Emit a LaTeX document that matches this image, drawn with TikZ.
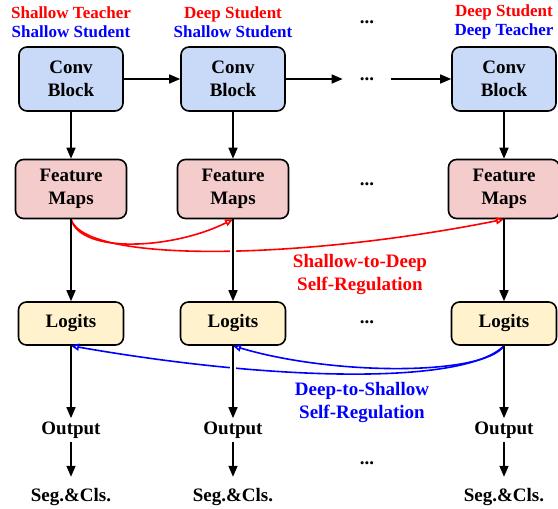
\documentclass[tikz,border=0pt]{standalone}
\usepackage{fontspec}
\setmainfont{Liberation Serif}
\usetikzlibrary{arrows.meta}
\definecolor{convblue}{HTML}{C9DAF8}
\definecolor{featpink}{HTML}{F4CCCC}
\definecolor{logityel}{HTML}{FFF2CC}
\begin{document}
\begin{tikzpicture}[x=1pt, y=-1pt, every node/.style={font=\bfseries\fontsize{19}{23}\selectfont, align=center},
                box/.style={draw, line width=1.6pt, rounded corners=8pt, inner sep=0pt},
                small/.style={font=\bfseries\fontsize{17}{19}\selectfont},
                flow/.style={line width=1.6pt, -{Triangle[length=11pt,width=9pt]}},
                gap/.style={preaction={draw=white, line width=6pt, arrows=-, shorten <=14pt, shorten >=14pt}},
                reg/.style={line width=1.6pt, -{Triangle[open,length=8pt,width=7pt]}}]
                \useasboundingbox (0,0) rectangle (558,509);
                \foreach \i/\x/\up/\lo in {1/71/Shallow Teacher/Shallow Student, 2/233/Deep Student/Shallow Student, 3/504/Deep Student/Deep Teacher} {
                    \node[small] (H\i) at (\x,22) {\textcolor{red}{\up}\\\textcolor{blue}{\lo}};
                    \node[box, fill=convblue, minimum width=104pt, minimum height=64pt] (conv\i) at (\x,79) {Conv\\Block};
                    \node[box, fill=featpink, minimum width=111pt, minimum height=59pt] (fm\i) at (\x,189) {Feature\\Maps};
                    \node[box, fill=logityel, minimum width=105pt, minimum height=43pt] (lg\i) at (\x,323.5) {Logits};
                    \node (out\i) at (\x,430) {Output};
                    \node (seg\i) at (\x,497) {Seg.\&Cls.};
                }
                \foreach \i/\y in {1/22, 2/79, 3/184, 4/322, 5/463} {
                    \node[inner xsep=17pt] (D\i) at (367,\y) {...};
                }
                \draw[flow] (conv1) -- (conv2);
                \draw[flow] (conv2) -- (D2);
                \draw[flow] (D2) -- (conv3);
                \draw[reg, red] (fm1.south) .. controls +(10,35) and +(-60,30) .. (fm2.south);
                \draw[reg, red] (fm1.south) .. controls +(15,45) and +(-200,40) .. (fm3.south);
                \draw[reg, blue] (lg3.south) .. controls +(-20,30) and +(100,30) .. (lg2.south);
                \draw[reg, blue] (lg3.south) .. controls +(-40,40) and +(200,35) .. (lg1.south);
                \node[text=red] (S2D) at (360,275) {Shallow-to-Deep\\Self-Regulation};
                \node[text=blue] (D2S) at (362,403) {Deep-to-Shallow\\Self-Regulation};
                \foreach \i in {1,...,3} {
                    \draw[flow] (conv\i) -- (fm\i);
                    \draw[flow, gap] (fm\i) -- (lg\i);
                    \draw[flow, gap] (lg\i) -- (out\i);
                    \draw[flow, shorten >=8pt] (out\i) -- (seg\i);
                }
            \end{tikzpicture}
\end{document}
